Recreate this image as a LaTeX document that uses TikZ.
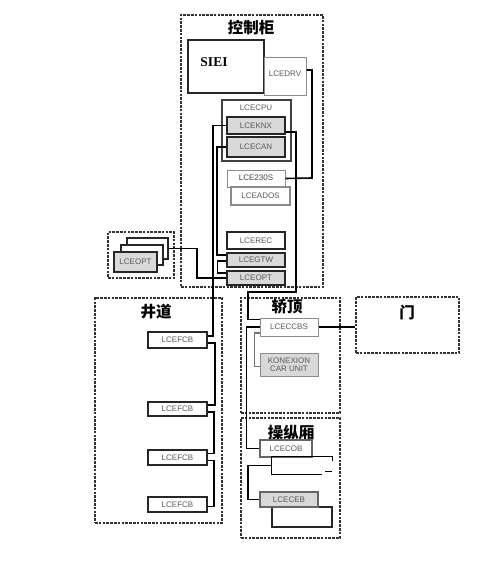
\documentclass[tikz,border=0pt]{standalone}
\usepackage{fontspec}
\setmainfont{Liberation Serif}
\setsansfont{Liberation Sans}
\newfontfamily\cjk{Noto Sans CJK SC}
\newcommand\boxnode[6]{\node[#1,minimum width={#4-#2},minimum height={#5-#3}] (#6) at ({(#2+#4)/2},{(#3+#5)/2})}
\begin{document}
\begin{tikzpicture}[x=1pt,y=-1pt,
  zone/.style={draw=black!80,line width=1.5pt,dash pattern=on 2.6pt off 1.2pt},
  title/.style={font=\cjk\bfseries\fontsize{15.5}{16}\selectfont,inner sep=0},
  wbox/.style={draw=black!85,line width=1.4pt,fill=white,inner sep=0,font=\sffamily\fontsize{8}{8.5}\selectfont,text=black!65},
  gbox/.style={wbox,fill=black!15},
  lbox/.style={wbox,draw=black!45,line width=1pt},
  plain/.style={inner sep=0,font=\sffamily\fontsize{8}{8.5}\selectfont,text=black!65},
  wire/.style={draw=black,line width=1.6pt},
  gwire/.style={draw=black!55,line width=1.2pt}]
\useasboundingbox (0,0) rectangle (500,562);

% ---- control cabinet
\boxnode{zone}{181}{15}{323}{287}{cab} {};
\node[title] (cabt) at (251,28) {控制柜};
\boxnode{wbox,line width=1.6pt,text=black}{188}{40}{264}{93}{siei} {};
\node[inner sep=0,font=\rmfamily\bfseries\fontsize{13.5}{14}\selectfont] (sieit) at (214,62) {SIEI};
\boxnode{lbox}{264}{57}{306}{95}{drv} {};
\node[plain] (drvt) at (285,74) {LCEDRV};
\boxnode{wbox,line width=1.1pt,draw=black!75}{222}{100}{291}{161}{cpu} {};
\node[plain] (cput) at (256,108) {LCECPU};
\boxnode{gbox,line width=1.8pt}{227}{117}{285}{134}{knx} {LCEKNX};
\boxnode{gbox,line width=1.8pt}{227}{137}{285}{157}{can} {LCECAN};
\boxnode{lbox}{227}{170}{285}{187}{c230} {};
\node[plain,text=black!75] (c230t) at (256,178) {LCE230S};
\boxnode{lbox,line width=1.1pt}{231}{187}{290}{205}{ados} {LCEADOS};
\boxnode{wbox}{227}{232}{285}{249}{rec} {LCEREC};
\boxnode{gbox}{227}{253}{285}{267}{gtw} {LCEGTW};
\boxnode{gbox}{227}{271}{285}{285}{opt} {LCEOPT};

% ---- external LCEOPT group
\boxnode{zone}{108}{232}{174}{278}{extz} {};
\boxnode{wbox}{127}{238}{168}{259}{eback} {};
\boxnode{wbox}{121}{245}{163}{265}{emid} {};
\boxnode{gbox,line width=1.8pt}{114}{252}{157}{272}{efront} {LCEOPT};

% ---- shaft
\boxnode{zone}{95}{298}{222}{523}{shaft} {};
\node[title] (shaftt) at (156,312) {井道};
\boxnode{wbox}{148}{332}{207}{348}{fcb1} {LCEFCB};
\boxnode{wbox}{148}{402}{207}{416}{fcb2} {LCEFCB};
\boxnode{wbox}{148}{450}{207}{465}{fcb3} {LCEFCB};
\boxnode{wbox}{148}{497}{207}{512}{fcb4} {LCEFCB};

% ---- car top
\boxnode{zone}{241}{298}{340}{413}{cartop} {};
\node[title] (cartopt) at (287,307) {轿顶};
\boxnode{lbox}{260}{318}{318}{336}{ccbs} {LCECCBS};
\boxnode{gbox,draw=black!45,line width=1pt,align=center,font=\sffamily\fontsize{8}{8.5}\selectfont}{260}{353}{318}{376}{konex} {KONEXION\\CAR UNIT};

% ---- door
\boxnode{zone}{356}{297}{459}{353}{door} {};
\node[title] (doort) at (407,313) {门};

% ---- car operating panel
\boxnode{zone}{241}{418}{340}{538}{cop} {};
\node[title] (copt) at (291,433) {操纵厢};
\boxnode{wbox,draw=black!60,line width=1.2pt}{260}{440}{312}{457}{cob} {LCECOB};
\boxnode{inner sep=0}{272}{457}{332}{474}{cobb} {};
\draw[wire,line width=1.3pt] ([yshift=-4]cobb.north east) -- (cobb.north east) -- (cobb.north west) -- (cobb.south west) -- ([xshift=-10]cobb.south east);
\draw[wire,line width=1.3pt] ([xshift=-7,yshift=3]cobb.south east) -- ([yshift=3]cobb.south east);
\boxnode{wbox,line width=1.8pt}{272}{507}{332}{527}{cebb} {};
\boxnode{gbox,draw=black!60,line width=1.2pt}{260}{492}{318}{507}{ceb} {LCECEB};

% ---- connectors
\draw[wire] ([yshift=6]drv.east) -| (312,178) -- (c230.east);
\draw[wire] (knx.west) -| (213,336) -- ([yshift=4]fcb1.east);
\draw[wire] ([yshift=-3]fcb1.east) -- ++(7,0) |- ([yshift=4]fcb2.east);
\draw[wire] ([yshift=-3]fcb2.east) -- ++(6,0) |- ([yshift=4]fcb3.east);
\draw[wire] ([yshift=-3]fcb3.east) -- ++(6,0) |- ([yshift=-2]fcb4.east);
\draw[wire] (can.west) -- ++(-9,0) |- ([yshift=5]gtw.west);
\draw[wire,line width=1.2pt] ([yshift=-1]gtw.west) -- ++(-9,0) |- ([yshift=5]opt.west);
\draw[wire] (eback.east) -| (197,278) -- (opt.west);
\draw[wire] ([yshift=-6.5]knx.east) -- ++(10,0) |- (248,292) |- ([yshift=7.5]ccbs.west);
\draw[wire] (ccbs.west) -- ++(-13,0) |- (cob.west);
\draw[gwire] ([yshift=-6]ccbs.west) -- ++(-5,0) |- ([yshift=-2]konex.west);
\draw[wire] (ccbs.east) -- (ccbs.east -| door.west);
\draw[wire] (cobb.west) -- ++(-24,0) |- (ceb.west);
\end{tikzpicture}
\end{document}
